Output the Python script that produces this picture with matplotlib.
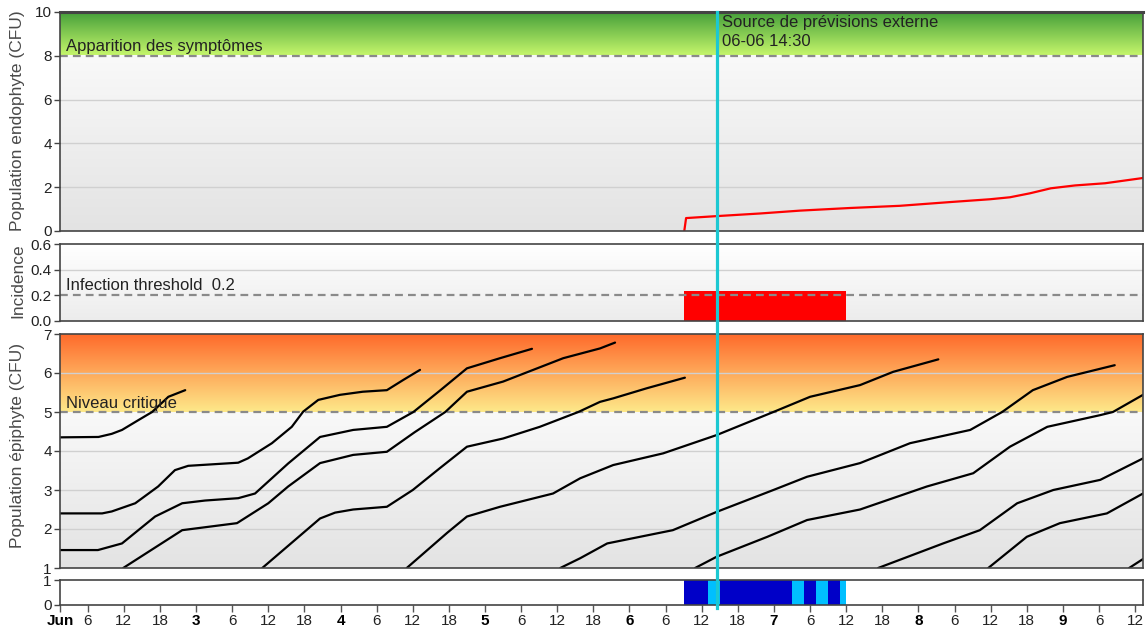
import numpy as np
import matplotlib
matplotlib.use("Agg")
import matplotlib.pyplot as plt
from matplotlib.lines import Line2D
from matplotlib.colors import LinearSegmentedColormap
import matplotlib.transforms as mtransforms

plt.rcParams['font.family'] = ['Liberation Sans', 'DejaVu Sans']

# ---------------- data (time = hours since 2 Jun 00:00) ----------------
x_min, x_max = 1.4, 181.3
forecast_hour = 110.5          # 06-06 14:30

tick_hours = [1.4, 6, 12, 18, 24, 30, 36, 42, 48, 54, 60, 66, 72, 78, 84, 90,
              96, 102, 108, 114, 120, 126, 132, 138, 144, 150, 156, 162, 168,
              174, 180]
tick_labels = ['Jun', '6', '12', '18', '3', '6', '12', '18', '4', '6', '12', '18',
               '5', '6', '12', '18', '6', '6', '12', '18', '7', '6', '12', '18',
               '8', '6', '12', '18', '9', '6', '12']
tick_is_day = [True, False, False, False, True, False, False, False, True, False,
               False, False, True, False, False, False, True, False, False, False,
               True, False, False, False, True, False, False, False, True, False,
               False]

# endophyte population (red line)
endo_hours = [105.1, 105.4, 110.5, 117.7, 124.3, 132.6, 140.9, 149.2, 155.9,
              159.2, 162.5, 166.0, 170.0, 175.0, 181.3]
endo_values = [0.0, 0.59, 0.68, 0.80, 0.93, 1.05, 1.15, 1.32, 1.45,
               1.54, 1.72, 1.95, 2.08, 2.18, 2.42]

# incidence
inc_hours = [105, 106, 107, 108, 109, 110, 111, 112, 113, 114, 115, 116, 117, 118,
             119, 120, 121, 122, 123, 124, 125, 126, 127, 128, 129, 130, 131]
inc_values = [0.23, 0.23, 0.23, 0.23, 0.23, 0.23, 0.23, 0.23, 0.23, 0.23, 0.23,
              0.23, 0.23, 0.23, 0.23, 0.23, 0.23, 0.23, 0.23, 0.23, 0.23, 0.23,
              0.23, 0.23, 0.23, 0.23, 0.23]
infection_threshold = 0.2

# bottom strip (1 = dark blue, 2 = light blue)
strip_hours = inc_hours
strip_codes = [1, 1, 1, 1, 2, 2, 1, 1, 1, 1, 1, 1, 1, 1, 1, 1, 1, 1, 2, 2,
               1, 1, 2, 2, 1, 1, 2]

# epiphyte cohorts
epi_a_h = [1.4, 7.8, 10.0, 11.7, 14.4, 16.7, 19.4, 22.2]
epi_a_v = [4.35, 4.36, 4.44, 4.54, 4.79, 5.0, 5.39, 5.56]
epi_b_h = [1.4, 8.4, 10.0, 13.9, 17.7, 20.5, 22.7, 31.0, 32.6, 36.6, 39.9, 41.8,
           44.3, 47.9, 51.7, 55.7, 58.4, 61.2]
epi_b_v = [2.40, 2.40, 2.45, 2.66, 3.09, 3.51, 3.62, 3.70, 3.81, 4.20, 4.62, 5.01,
           5.31, 5.44, 5.52, 5.56, 5.82, 6.08]
epi_c_h = [1.4, 7.7, 11.7, 17.2, 21.7, 25.5, 31.0, 33.8, 39.3, 44.6, 50.1, 55.7,
           60.1, 64.6, 69.0, 74.5, 79.8]
epi_c_v = [1.46, 1.46, 1.63, 2.32, 2.66, 2.73, 2.79, 2.91, 3.68, 4.36, 4.54, 4.62,
           5.0, 5.56, 6.12, 6.38, 6.62]
epi_d_h = [11.9, 21.7, 30.8, 36.0, 39.3, 44.6, 50.1, 55.7, 60.3, 65.4, 69.0, 75.0,
           80.0, 85.0, 91.1, 93.6]
epi_d_v = [1.0, 1.97, 2.15, 2.66, 3.09, 3.69, 3.90, 3.98, 4.48, 5.0, 5.52, 5.78,
           6.08, 6.38, 6.63, 6.78]
epi_e_h = [35.0, 44.6, 47.1, 50.1, 55.7, 60.0, 64.5, 69.0, 75.0, 81.1, 87.5, 91.1,
           93.3, 98.9, 105.2]
epi_e_v = [1.0, 2.27, 2.42, 2.50, 2.57, 3.0, 3.56, 4.11, 4.32, 4.62, 5.0, 5.26,
           5.35, 5.61, 5.88]
epi_f_h = [59.0, 65.7, 69.0, 74.5, 83.3, 87.8, 93.3, 101.6, 110.5, 119.9, 126.0,
           134.3, 139.8, 147.3]
epi_f_v = [1.0, 1.9, 2.32, 2.57, 2.91, 3.3, 3.64, 3.94, 4.41, 5.0, 5.39, 5.69,
           6.03, 6.35]
epi_g_h = [84.5, 87.8, 92.3, 103.2, 110.5, 119.9, 125.5, 134.3, 142.6, 152.6,
           157.9, 163.0, 168.7, 176.6]
epi_g_v = [1.0, 1.25, 1.63, 1.97, 2.44, 3.0, 3.34, 3.69, 4.2, 4.54, 5.0, 5.56,
           5.9, 6.2]
epi_h_h = [106.9, 110.5, 118.9, 125.5, 134.3, 145.4, 153.1, 159.2, 165.4, 174.2,
           176.3, 181.3]
epi_h_v = [1.0, 1.29, 1.80, 2.23, 2.5, 3.09, 3.43, 4.11, 4.62, 4.92, 5.0, 5.44]
epi_i_h = [137.3, 148.1, 154.2, 160.4, 166.4, 174.2, 181.3]
epi_i_v = [1.0, 1.63, 1.97, 2.66, 3.0, 3.26, 3.81]
epi_j_h = [155.6, 162.0, 167.5, 175.3, 181.3]
epi_j_v = [1.0, 1.80, 2.15, 2.40, 2.91]
epi_k_h = [179.0, 181.3]
epi_k_v = [1.0, 1.23]
critical_level = 5
symptom_level = 8

# ---------------- figure ----------------
W, H = 1148, 632
fig = plt.figure(figsize=(W / 100, H / 100), dpi=100)
fig.patch.set_facecolor('white')

def axes_px(x0, y0, x1, y1):
    return fig.add_axes([x0 / W, 1 - y1 / H, (x1 - x0) / W, (y1 - y0) / H])

ax_endo = axes_px(60, 12, 1143, 231)
ax_inc = axes_px(60, 244, 1143, 321)
ax_epi = axes_px(60, 334, 1143, 568)
ax_strip = axes_px(60, 580, 1143, 605)

GRID = '#d0d0d0'
DASH = '#8a8a8a'
TXT = '#222222'
TICK_FS = 11
NOTE_FS = 12

def gradient(ax, y0, y1, c_bottom, c_top):
    cmap = LinearSegmentedColormap.from_list('g', [c_bottom, c_top])
    ax.imshow(np.linspace(0, 1, 256).reshape(-1, 1), extent=[x_min, x_max, y0, y1],
              aspect='auto', origin='lower', cmap=cmap, zorder=0, interpolation='bicubic')

def style(ax, ymin, ymax, yticks, fmt):
    ax.set_xlim(x_min, x_max)
    ax.set_ylim(ymin, ymax)
    ax.set_yticks(yticks)
    ax.set_yticklabels([fmt.format(v) for v in yticks], fontsize=TICK_FS, color=TXT)
    ax.tick_params(axis='y', length=4, width=1, color='#444444', pad=2)
    ax.set_xticks([])
    for s in ax.spines.values():
        s.set_color('#444444')
        s.set_linewidth(1.2)
        s.set_zorder(5)

dash_style = (0, (3.5, 2.3))
left_blend = lambda ax: mtransforms.blended_transform_factory(ax.transAxes, ax.transData)

# --- endophyte panel
gradient(ax_endo, symptom_level, 10, '#c8f76c', '#45a03a')
gradient(ax_endo, 0, symptom_level, '#e3e3e3', '#f9f9f9')
for g in [2, 4, 6]:
    ax_endo.axhline(g, color=GRID, lw=1, zorder=1)
ax_endo.axhline(symptom_level, color=DASH, lw=1.6, ls=dash_style, zorder=2)
ax_endo.plot(endo_hours, endo_values, color='#ff0000', lw=1.6, zorder=3)
style(ax_endo, 0, 10, [0, 2, 4, 6, 8, 10], '{:g}')
ax_endo.spines['top'].set_linewidth(2.2)
ax_endo.text(0.0055, symptom_level + 0.08, 'Apparition des symptômes', transform=left_blend(ax_endo),
             fontsize=NOTE_FS, color=TXT, va='bottom', ha='left', zorder=4)
ax_endo.annotate('Source de prévisions externe\n06-06 14:30', xy=(forecast_hour, 10),
                 xytext=(3.5, -2.5), textcoords='offset points', fontsize=NOTE_FS, color=TXT,
                 va='top', ha='left', zorder=6, linespacing=1.3)

# --- incidence panel
gradient(ax_inc, 0, 0.6, '#ececec', '#ffffff')
ax_inc.axhline(0.4, color=GRID, lw=1, zorder=1)
ax_inc.bar(inc_hours, inc_values, width=1.0, align='edge', color='#ff0000', lw=0, zorder=2)
ax_inc.axhline(infection_threshold, color=DASH, lw=1.6, ls=dash_style, zorder=3)
style(ax_inc, 0, 0.6, [0.0, 0.2, 0.4, 0.6], '{:.1f}')
ax_inc.text(0.0055, infection_threshold + 0.015, 'Infection threshold  0.2',
            transform=left_blend(ax_inc),
            fontsize=NOTE_FS, color=TXT, va='bottom', ha='left', zorder=4)

# --- epiphyte panel
gradient(ax_epi, critical_level, 7, '#fde98a', '#ff6a2b')
gradient(ax_epi, 1, critical_level, '#e3e3e3', '#f9f9f9')
for g in [2, 3, 4, 6]:
    ax_epi.axhline(g, color=GRID, lw=1, zorder=1)
ax_epi.axhline(critical_level, color=DASH, lw=1.6, ls=dash_style, zorder=2)
for hh, vv in [(epi_a_h, epi_a_v), (epi_b_h, epi_b_v), (epi_c_h, epi_c_v),
               (epi_d_h, epi_d_v), (epi_e_h, epi_e_v), (epi_f_h, epi_f_v),
               (epi_g_h, epi_g_v), (epi_h_h, epi_h_v), (epi_i_h, epi_i_v),
               (epi_j_h, epi_j_v), (epi_k_h, epi_k_v)]:
    ax_epi.plot(hh, vv, color='black', lw=1.6, zorder=3, solid_capstyle='round',
                solid_joinstyle='round')
style(ax_epi, 1, 7, [1, 2, 3, 4, 5, 6, 7], '{:g}')
ax_epi.text(0.0055, critical_level + 0.03, 'Niveau critique',
            transform=left_blend(ax_epi),
            fontsize=NOTE_FS, color=TXT, va='bottom', ha='left', zorder=4)

# --- strip
strip_colors = {1: '#0000c8', 2: '#00bfff'}
ax_strip.bar(strip_hours, [1] * len(strip_hours), width=1.0, align='edge',
             color=[strip_colors[c] for c in strip_codes], lw=0, zorder=2)
style(ax_strip, 0, 1, [0, 1], '{:g}')
ax_strip.set_xticks(tick_hours)
ax_strip.set_xticklabels(tick_labels, fontsize=TICK_FS, color=TXT)
for lab, is_day in zip(ax_strip.get_xticklabels(), tick_is_day):
    if is_day:
        lab.set_fontweight('bold')
        lab.set_color('black')
ax_strip.tick_params(axis='x', length=5, width=1, color='#555555', pad=1.5)

# --- y labels
for txt, yc in [('Population endophyte (CFU)', 121), ('Incidence', 281),
                ('Population épiphyte (CFU)', 446)]:
    fig.text(18 / W, 1 - yc / H, txt, rotation=90, ha='center', va='center',
             fontsize=12.5, color='#4a4a4a')

# --- forecast line across all panels
trans = mtransforms.blended_transform_factory(ax_strip.transData, fig.transFigure)
fig.add_artist(Line2D([forecast_hour, forecast_hour], [1 - 608 / H, 1 - 12 / H],
                      transform=trans, color='#1cc8d2', lw=2.3, zorder=10))

fig.savefig('out.png', dpi=100)
